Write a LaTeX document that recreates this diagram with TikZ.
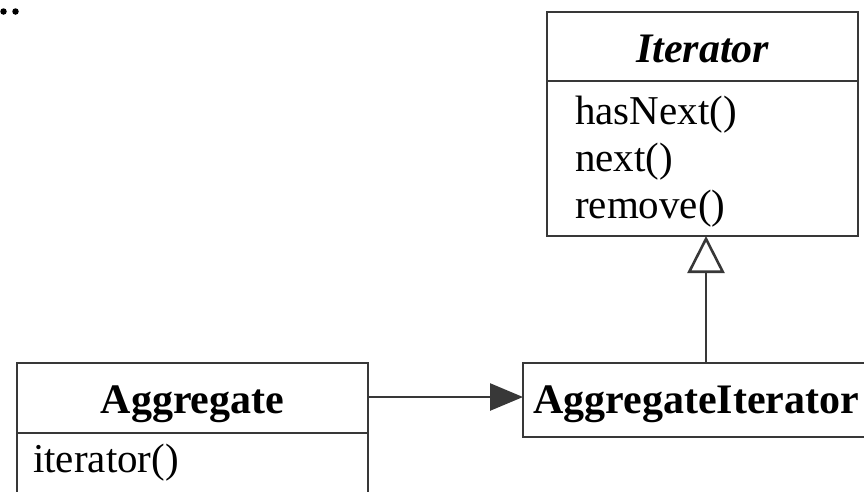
\documentclass[tikz,border=0pt]{standalone}
\usepackage{fontspec}
\setmainfont{Liberation Serif}
\usetikzlibrary{arrows.meta}
\begin{document}
\begin{tikzpicture}[x=1pt,y=-1pt,
  umlbox/.style={draw=black!78, line width=2.6pt, inner sep=0pt, outer sep=0pt},
  title/.style={inner sep=0pt, font=\fontsize{42}{48}\selectfont\bfseries},
  method/.style={anchor=base west, inner sep=0pt, font=\fontsize{41}{47}\selectfont},
  link/.style={draw=black!78, line width=2.6pt},
  dot/.style={circle, fill=black, inner sep=0pt, minimum size=6.5pt}]
\useasboundingbox (0,0) rectangle (864,491);
\clip (0,0) rectangle (864,491);

% two small dots in the corner
\node[dot] (d1) at (3.5,11.5) {};
\node[dot] (d2) at (15.5,11.5) {};

% Iterator class
\node[umlbox, minimum width=311, minimum height=69] (iterhead) at (702.5,46.5) {};
\node[umlbox, minimum width=311, minimum height=155] (iterbody) at (702.5,158.5) {};
\node[title, anchor=base, font=\fontsize{42}{48}\selectfont\bfseries\itshape] (itertitle) at (702.5,62) {Iterator};
\node[method] (m1) at (575,124) {hasNext()};
\node[method] (m2) at (575,171) {next()};
\node[method] (m3) at (575,218) {remove()};

% Aggregate class
\node[umlbox, minimum width=351, minimum height=70] (agghead) at (192.5,398) {};
\node[umlbox, minimum width=351, minimum height=87] (aggbody) at (192.5,476.5) {};
\node[title, anchor=base] (aggtitle) at (192.5,413) {Aggregate};
\node[method] (m4) at (33,472) {iterator()};

% AggregateIterator class
\node[umlbox, minimum width=352, minimum height=74] (aggit) at (699,400) {};
\node[title, anchor=base west] (aggittitle) at (533,413) {AggregateIterator};

% association
\draw[link, -{Triangle[length=33pt,width=27pt]}] (agghead.east |- 0,397) -- (aggit.west |- 0,397);

% generalization
\coordinate (gen) at (706,0);
\draw[link, -{Triangle[open, length=37pt, width=37pt]}] (aggit.north -| gen) -- (iterbody.south -| gen);
\end{tikzpicture}
\end{document}
